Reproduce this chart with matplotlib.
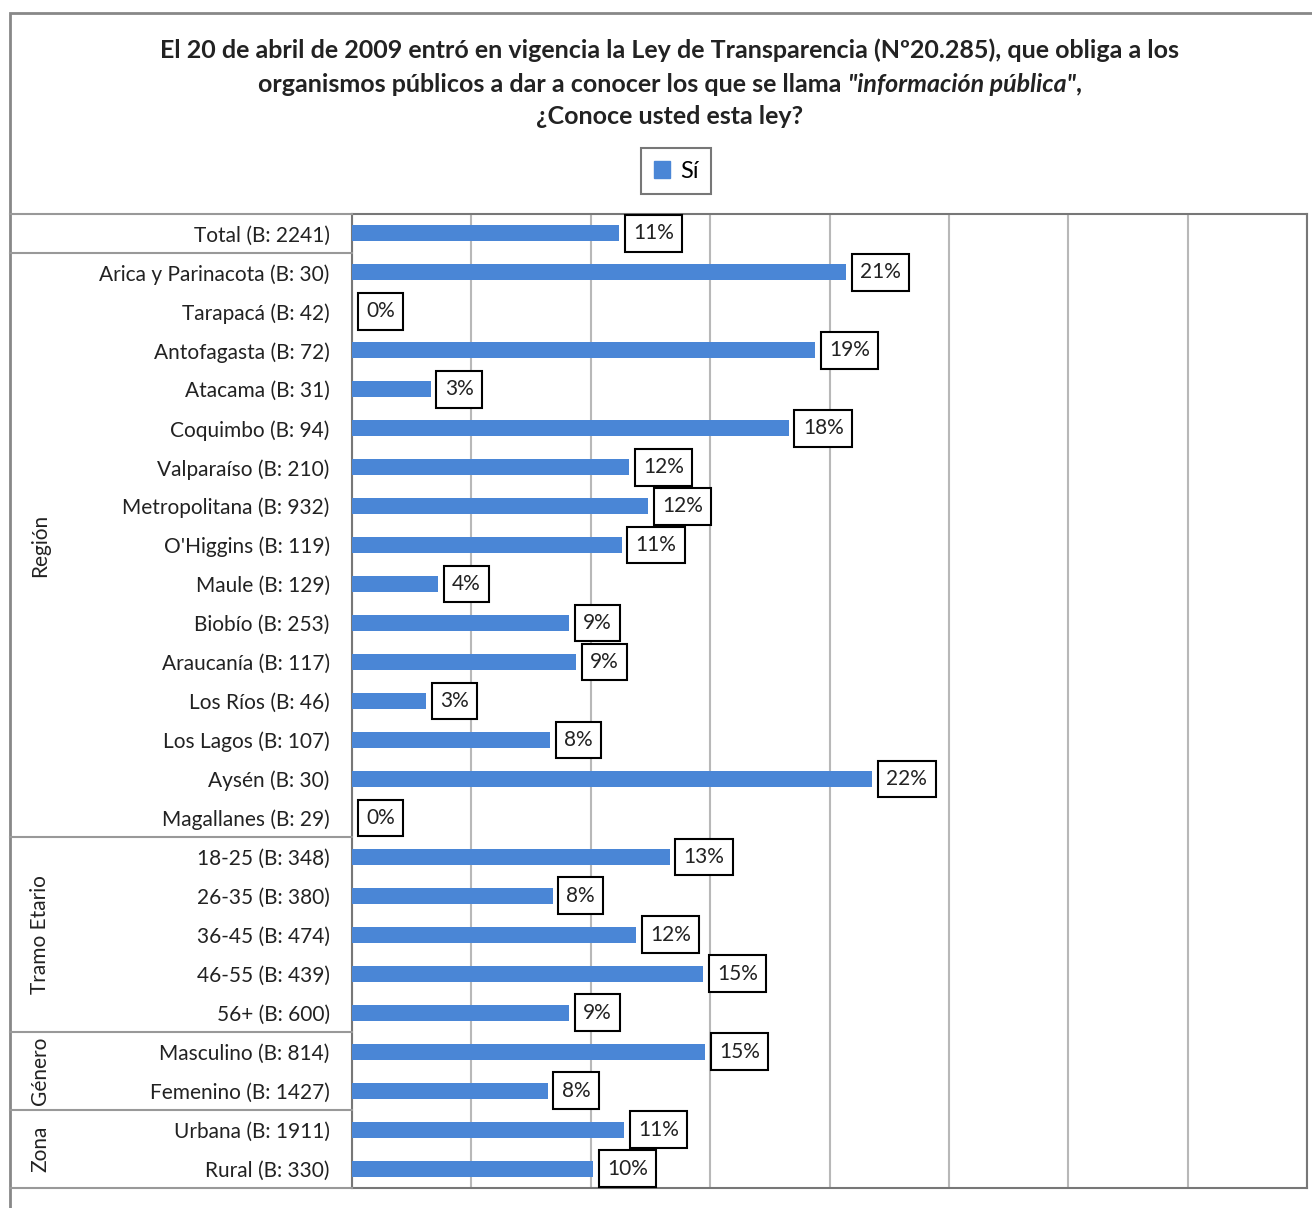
import numpy as np
import matplotlib.pyplot as plt
from matplotlib.lines import Line2D
from matplotlib.patches import Rectangle

plt.rcParams['font.family'] = ['Lato', 'DejaVu Sans']

categories = [
    "Total (B: 2241)",
    "Arica y Parinacota (B: 30)", "Tarapacá (B: 42)", "Antofagasta (B: 72)",
    "Atacama (B: 31)", "Coquimbo (B: 94)", "Valparaíso (B: 210)",
    "Metropolitana (B: 932)", "O'Higgins (B: 119)", "Maule (B: 129)",
    "Biobío (B: 253)", "Araucanía (B: 117)", "Los Ríos (B: 46)",
    "Los Lagos (B: 107)", "Aysén (B: 30)", "Magallanes (B: 29)",
    "18-25 (B: 348)", "26-35 (B: 380)", "36-45 (B: 474)", "46-55 (B: 439)",
    "56+ (B: 600)",
    "Masculino (B: 814)", "Femenino (B: 1427)",
    "Urbana (B: 1911)", "Rural (B: 330)",
]
si = [11.2, 20.7, 0.0, 19.4, 3.3, 18.3, 11.6, 12.4, 11.3, 3.6, 9.1, 9.4, 3.1,
      8.3, 21.8, 0.0, 13.3, 8.4, 11.9, 14.7, 9.1, 14.8, 8.2, 11.4, 10.1]
# group name, first row, last row
groups = [("Región", 1, 15), ("Tramo Etario", 16, 20), ("Género", 21, 22), ("Zona", 23, 24)]

W, H = 1312, 1208
fig = plt.figure(figsize=(W / 100, H / 100), dpi=100)
x0, x1, ytop, ybot = 352, 1307, 214, 1188
ax = fig.add_axes([x0 / W, 1 - ybot / H, (x1 - x0) / W, (ybot - ytop) / H])

n = len(categories)
y = np.arange(n)
ax.barh(y, si, height=0.41, color='#4A86D6', zorder=3)
ax.set_xlim(0, 40)
ax.set_ylim(n - 0.5, -0.5)
ax.set_xticks(np.arange(0, 41, 5))
ax.set_xticklabels([])
ax.set_yticks(y)
ax.set_yticklabels(categories, fontsize=15, color='#222222')
ax.tick_params(length=0, pad=16)
ax.grid(axis='x', color='#b8b8b8', linewidth=1.5, zorder=0)
for s in ax.spines.values():
    s.set_color('#777777')
    s.set_linewidth(1.5)

for yi, v in zip(y, si):
    ax.annotate(f"{v:.0f}%", xy=(v, yi), xytext=(10, 0), textcoords='offset points',
                va='center', ha='left', fontsize=15, color='#222222', zorder=5,
                bbox=dict(boxstyle='square,pad=0.4', fc='white', ec='black', lw=1.5))

# outer frame
fig.add_artist(Rectangle((10 / W, -0.05), 1.05, 1 - 13 / H + 0.05, transform=fig.transFigure,
                         fill=False, ec='#888888', lw=2))

# separators in the label column
row_h = (ybot - ytop) / n
bounds = [0, 1, 16, 21, 23, 25]
for b in bounds:
    yy = 1 - (ytop + b * row_h) / H
    fig.add_artist(Line2D([10 / W, x0 / W], [yy, yy], transform=fig.transFigure,
                          color='#999999', lw=1.5))

for name, a, b in groups:
    yc = ytop + (a + b + 1) / 2 * row_h
    fig.text(40 / W, 1 - yc / H, name, rotation=90, ha='center', va='center',
             fontsize=15, color='#222222')

# title
tkw = dict(va='center', fontsize=18, fontweight='bold', color='#222222')
cx = 0.5 + 14 / W
fig.text(cx, 1 - 50 / H,
         "El 20 de abril de 2009 entró en vigencia la Ley de Transparencia (Nº20.285), que obliga a los",
         ha='center', **tkw)
parts = [("organismos públicos a dar a conocer los que se llama ", 'normal'),
         ("\"información pública\"", 'italic'), (",", 'normal')]
renderer = fig.canvas.get_renderer()
texts = [fig.text(0, 1 - 84 / H, s, ha='left', style=st, **tkw) for s, st in parts]
widths = [t.get_window_extent(renderer).width for t in texts]
xs = cx * W - sum(widths) / 2
for t, w in zip(texts, widths):
    t.set_x(xs / W)
    xs += w
fig.text(cx, 1 - 117 / H, "¿Conoce usted esta ley?", ha='center', **tkw)

leg = fig.legend([Rectangle((0, 0), 1, 1, color='#4A86D6')], ["Sí"], loc='center',
                 bbox_to_anchor=(676 / W, 1 - 171 / H), fontsize=17, frameon=True,
                 fancybox=False, edgecolor='#555555', handlelength=0.7, handletextpad=0.4,
                 borderpad=0.55)
leg.get_frame().set_linewidth(1.5)

fig.savefig('out.png', dpi=100, facecolor='white')
